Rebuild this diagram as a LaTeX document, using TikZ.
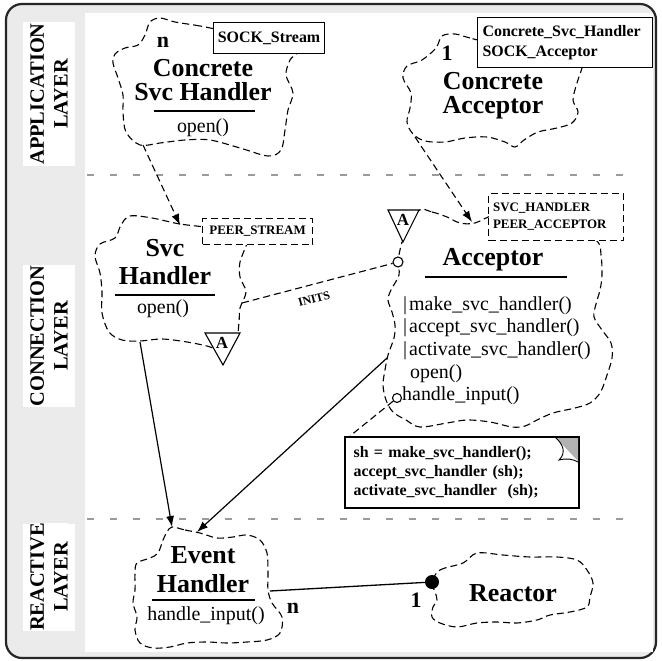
\documentclass[tikz,border=0pt]{standalone}
\usepackage{fontspec}
\setmainfont{Liberation Serif}
\usetikzlibrary{arrows.meta}
\definecolor{bggray}{HTML}{EBEBEB}
\definecolor{sepgray}{HTML}{9A9A9A}
\begin{document}
\begin{tikzpicture}[x=1bp,y=-1bp,
  cl/.style={line width=1.1bp, dash pattern=on 7bp off 4bp, line join=round},
  dconn/.style={cl, -{Latex[length=11bp,width=8bp]}},
  sconn/.style={line width=1.2bp, -{Latex[length=11bp,width=8bp]}},
  sepline/.style={draw=sepgray, line width=2bp, dash pattern=on 7bp off 16bp},
  cloudpath/.style={cl},
  lbl/.style={fill=white, rotate=90, align=center, inner sep=0pt, font=\fontsize{20.5}{24}\selectfont\bfseries},
  ttl/.style={align=center, inner sep=0pt, font=\fontsize{26}{24}\selectfont\bfseries},
  ttlw/.style={align=center, inner sep=0pt, font=\fontsize{26}{29}\selectfont\bfseries},
  meth/.style={inner sep=0pt, font=\fontsize{20}{22}\selectfont},
  tpl/.style={fill=white, line width=1.1bp, align=left, inner sep=0pt, font=\fontsize{16}{20}\selectfont\bfseries},
  tpls/.style={fill=white, line width=1.1bp, align=left, inner sep=0pt, font=\fontsize{13}{17}\selectfont\bfseries},
  mult/.style={inner sep=0pt, font=\fontsize{22}{22}\selectfont\bfseries},
  tri/.style={draw, fill=white, line width=1.1bp, line join=miter},
  trilbl/.style={inner sep=0pt, font=\fontsize{17}{17}\selectfont\bfseries},
  ul/.style={line width=1.1bp}
]
\useasboundingbox (0,0) rectangle (661,661);
% frame
\draw[line width=2.2bp, rounded corners=16bp, fill=bggray, draw=black!85] (6,4) rectangle (656,658);
\fill[white] (85,13) rectangle (653,652);

% layer labels
\fill[white] (23,22) rectangle (75,166);
\node[lbl] (lapp) at (49,94) {APPLICATION\\LAYER};
\fill[white] (23,265) rectangle (75,407);
\node[lbl] (lcon) at (49,336) {CONNECTION\\LAYER};
\fill[white] (23,524) rectangle (75,631);
\node[lbl] (lrea) at (49,577) {REACTIVE\\LAYER};

% separators
\draw[sepline] (87,175) -- (627,175);
\draw[sepline] (87,519) -- (627,519);

% ---------- clouds ----------
% Concrete Svc Handler
\draw[cloudpath] plot[smooth cycle, tension=0.55] coordinates {
 (230,32) (200,26) (175,22) (160,18) (150,22) (145,35) (138,45) (125,48) (115,54) (113,63)
 (118,78) (123,95) (123,112) (126,132) (140,145) (160,143) (185,140) (210,140) (240,148)
 (268,156) (281,150) (285,130) (288,110) (293,93) (286,75) (290,60) (298,45)};
% Concrete Acceptor
\draw[cloudpath] plot[smooth cycle, tension=0.55] coordinates {
 (490,42) (470,38) (455,34) (442,36) (436,48) (422,60) (407,66) (403,78) (411,93) (410,108)
 (407,122) (413,134) (425,141) (445,142) (465,138) (487,137) (505,142) (515,147) (524,140)
 (538,132) (557,128) (572,123) (578,112) (573,100) (577,83) (582,68) (585,55)};
% Svc Handler
\draw[cloudpath] plot[smooth cycle, tension=0.55] coordinates {
 (215,228) (180,224) (152,218) (130,216) (121,225) (115,238) (100,244) (95,256) (100,273)
 (102,292) (102,313) (109,332) (122,340) (140,341) (162,339) (187,342) (207,346) (222,350)
 (236,340) (239,322) (240,308) (246,292) (240,277) (240,262) (246,246) (250,232)};
% Acceptor
\draw[cloudpath] plot[smooth cycle, tension=0.55] coordinates {
 (418,211) (432,212) (447,217) (460,223) (475,223) (500,214) (560,214) (596,240) (601,255)
 (602,275) (600,290) (596,304) (594,317) (602,330) (611,343) (612,358) (606,378) (600,393)
 (590,403) (575,408) (553,413) (537,420) (525,426) (512,427) (490,422) (467,420) (447,423)
 (420,427) (406,420) (393,412) (386,400) (383,385) (385,370) (388,355) (394,338) (395,325)
 (392,312) (388,300) (391,290) (399,275) (398,262) (400,250) (403,240)};
% Event Handler
\draw[cloudpath] plot[smooth cycle, tension=0.55] coordinates {
 (172,527) (185,530) (200,533) (217,538) (233,537) (247,535) (260,540) (267,553) (268,573)
 (268,590) (272,603) (282,617) (280,633) (267,640) (247,642) (227,643) (207,642) (187,643)
 (170,647) (153,648) (140,643) (135,630) (137,617) (133,603) (135,590) (135,573) (137,563)
 (150,558) (158,553) (163,540) (167,532)};
% Reactor
\draw[cloudpath] plot[smooth cycle, tension=0.55] coordinates {
 (432,582) (440,570) (463,563) (477,553) (503,555) (530,557) (557,557) (577,560) (587,570)
 (593,583) (590,597) (587,607) (570,612) (550,615) (537,620) (517,623) (497,622) (477,623)
 (457,627) (440,623) (432,617) (433,607) (437,600) (435,592)};

% ---------- anchor points ----------
\coordinate (cshB) at (143,145);
\coordinate (shT) at (180,225);
\coordinate (caB) at (415,137);
\coordinate (acT) at (472,222);
\coordinate (shR) at (242,303);
\coordinate (shB) at (140,342);
\coordinate (ehT1) at (172,527);
\coordinate (acL) at (387,358);
\coordinate (ehT2) at (197,532);
\coordinate (ehR) at (270,591);
\coordinate (noteC) at (350,436);

% ---------- texts ----------
% Concrete Svc Handler
\node[mult] (csh-n) at (163,42) {n};
\node[ttl] (csh) at (203,80) {Concrete\\Svc Handler};
\draw[ul] (154,111) -- (255,111);
\node[meth] (csh-open) at (203,128) {open()};
% Concrete Acceptor
\node[mult] (ca-1) at (447,53) {1};
\node[ttl] (ca) at (493,96) {Concrete\\Acceptor};
% Svc Handler
\node[ttlw] (sh) at (165,262) {Svc\\Handler};
\draw[ul] (115,295) -- (215,295);
\node[meth] (sh-open) at (163,309) {open()};
% Acceptor
\node[ttl] (ac) at (493,260) {Acceptor};
\draw[ul] (425,277) -- (567,277);
\node[meth, anchor=mid west] (m1) at (403,308) {|\hspace{2bp}make\_svc\_handler()};
\node[meth, anchor=mid west] (m2) at (403,330) {|\hspace{2bp}accept\_svc\_handler()};
\node[meth, anchor=mid west] (m3) at (403,353) {|\hspace{2bp}activate\_svc\_handler()};
\node[meth, anchor=mid west] (m4) at (410,376) {open()};
\node[meth, anchor=mid west] (m5) at (402,398) {handle\_input()};
% Event Handler
\node[ttlw] (eh) at (203,570) {Event\\Handler};
\draw[ul] (152,600) -- (255,600);
\node[meth] (eh-hi) at (206,616) {handle\_input()};
\node[mult] (eh-n) at (293,608) {n};
% Reactor
\node[ttl] (re) at (513,593) {Reactor};
\node[mult] (re-1) at (416,600) {1};

% ---------- connectors ----------
\draw[dconn] (cshB) -- (shT);
\draw[dconn] (caB) -- (acT);
\node[circle, draw, fill=white, line width=1.1bp, inner sep=0pt, minimum size=10bp] (initc) at (398,262) {};
\draw[cl] (shR) -- (initc);
\node[rotate=15, inner sep=0pt, font=\fontsize{12}{12}\selectfont\bfseries] (inits) at (314,299) {INITS};
\draw[sconn] (shB) -- (ehT1);
\draw[sconn] (acL) -- (ehT2);
\node[circle, fill=black, inner sep=0pt, minimum size=14bp] (ball) at (432,582) {};
\draw[line width=1.3bp] (ehR) -- (ball);
\node[circle, draw, fill=white, line width=1.1bp, inner sep=0pt, minimum size=9bp] (hic) at (397,398) {};
\draw[cl] (hic) -- (noteC);

% ---------- template boxes ----------
\node[tpl, draw, anchor=north west, minimum width=111bp, minimum height=31bp, align=center] (tsock) at (213,22) {SOCK\_Stream};
\node[tpl, draw, anchor=north west, minimum width=175bp, minimum height=50bp, text width=165bp, inner xsep=5bp] (tca) at (477,17) {Concrete\_Svc\_Handler\\SOCK\_Acceptor};
\node[tpls, draw, cl, anchor=north west, minimum width=110bp, minimum height=26bp, align=center] (tps) at (202,218) {PEER\_STREAM};
\node[tpls, draw, cl, anchor=north west, minimum width=135bp, minimum height=47bp, text width=126bp, inner xsep=4.5bp] (tac) at (488,193) {SVC\_HANDLER\\PEER\_ACCEPTOR};

% ---------- abstract markers ----------
\draw[tri] (205,333) -- (240,333) -- (223,365) -- cycle;
\node[trilbl] (ash) at (222,343) {A};
\draw[tri] (388,210) -- (419,210) -- (403,242) -- cycle;
\node[trilbl] (aac) at (403,220) {A};

% ---------- note ----------
\node[draw, fill=white, line width=1.1bp, anchor=north west, minimum width=233bp, minimum height=70bp,
      text width=217bp, inner xsep=8bp, inner ysep=0pt, align=left, font=\fontsize{16}{19}\selectfont\bfseries] (note) at (345,437)
 {sh = make\_svc\_handler();\\accept\_svc\_handler (sh);\\activate\_svc\_handler \ (sh);};
\fill[gray!60] (555,437) -- (578,437) -- (578,461) -- cycle;
\fill[white] (555,437) .. controls (564,445) and (566,453) .. (559,460) .. controls (566,458) and (573,459) .. (578,462) -- cycle;
\draw[line width=0.9bp] (555,437) .. controls (564,445) and (566,453) .. (559,460) .. controls (566,458) and (573,459) .. (578,462);
\draw[line width=1.1bp] (note.north west) rectangle (note.south east);
\end{tikzpicture}
\end{document}
